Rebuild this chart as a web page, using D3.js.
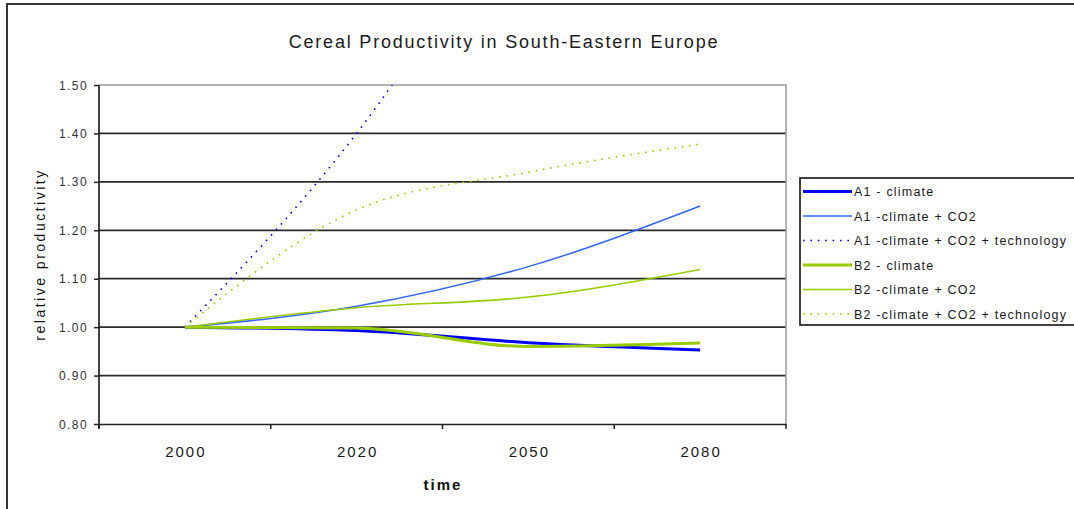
<!DOCTYPE html>
<html>
<head>
<meta charset="utf-8">
<script src="https://cdn.jsdelivr.net/npm/d3@7"></script>
<style>
  html, body { margin: 0; padding: 0; background: #fff; }
  svg { display: block; font-family: "Liberation Sans", Arial, sans-serif; }
</style>
</head>
<body>
<svg id="chart" width="1074" height="509"></svg>
<script>
// Categories on the time axis
const categories = ["2000", "2020", "2050", "2080"];

// Relative cereal productivity per scenario
const a1Climate      = [1.00, 0.993, 0.968, 0.953];
const a1ClimateCO2   = [1.00, 1.043, 1.125, 1.250];
const a1ClimateTech  = [1.00, 1.400, 1.920, 2.400];
const b2Climate      = [1.00, 0.998, 0.960, 0.967];
const b2ClimateCO2   = [1.00, 1.040, 1.062, 1.119];
const b2ClimateTech  = [1.00, 1.242, 1.320, 1.378];

// Value-axis tick labels
const yTicks = [0.80, 0.90, 1.00, 1.10, 1.20, 1.30, 1.40, 1.50];

const seriesLabels = [
  "A1 - climate",
  "A1 -climate + CO2",
  "A1 -climate + CO2 + technology",
  "B2 - climate",
  "B2 -climate + CO2",
  "B2 -climate + CO2 + technology"
];

const series = [
  { label: seriesLabels[0], values: a1Climate,     color: "#0000ff", width: 3,   dash: null },
  { label: seriesLabels[1], values: a1ClimateCO2,  color: "#3366ff", width: 1.5, dash: null },
  { label: seriesLabels[2], values: a1ClimateTech, color: "#0000ff", width: 1.6, dash: "1.6,5.8" },
  { label: seriesLabels[3], values: b2Climate,     color: "#99cc00", width: 3,   dash: null },
  { label: seriesLabels[4], values: b2ClimateCO2,  color: "#99cc00", width: 1.5, dash: null },
  { label: seriesLabels[5], values: b2ClimateTech, color: "#99cc00", width: 1.6, dash: "1.6,5.8" }
];

const svg = d3.select("#chart");
const W = 1074, H = 509;

// Plot area box
const plot = { left: 99, top: 85, right: 786, bottom: 424 };

svg.append("rect").attr("width", W).attr("height", H).attr("fill", "#fff");

// Chart area frame
svg.append("path")
  .attr("d", `M7,${H + 2}V4H${W + 2}`)
  .attr("fill", "none").attr("stroke", "#333").attr("stroke-width", 2);

const x = d3.scaleBand().domain(categories).range([plot.left, plot.right]).padding(0);
const y = d3.scaleLinear().domain([0.8, 1.5]).range([plot.bottom, plot.top]);

// Horizontal gridlines
svg.append("g").selectAll("line")
  .data(yTicks.filter(t => t > 0.8 && t < 1.5))
  .join("line")
  .attr("x1", plot.left).attr("x2", plot.right)
  .attr("y1", d => y(d)).attr("y2", d => y(d))
  .attr("stroke", "#2b2b2b").attr("stroke-width", 1.7);

// Plot area border (top and right)
svg.append("path")
  .attr("d", `M${plot.left},${y(1.5)}H${plot.right}V${plot.bottom}`)
  .attr("fill", "none").attr("stroke", "#9a9a9a").attr("stroke-width", 1.5);

// Y axis
const yAxis = svg.append("g")
  .attr("transform", `translate(${plot.left},0)`)
  .call(d3.axisLeft(y).tickValues(yTicks).tickFormat(d3.format(".2f")).tickSize(5).tickPadding(6));
yAxis.select(".domain").attr("stroke", "#222").attr("stroke-width", 1.7)
  .attr("d", `M0,${plot.top}V${plot.bottom + 4}`);
yAxis.selectAll(".tick line").attr("stroke", "#222").attr("stroke-width", 1.5);
yAxis.selectAll(".tick text")
  .attr("font-size", 12).attr("fill", "#333")
  .attr("letter-spacing", "1.4px").attr("dy", "0.34em")
  .style("font-family", "'Liberation Sans', Arial, sans-serif");

// X axis: labels centred in each band, ticks on band edges
const xAxis = svg.append("g")
  .attr("transform", `translate(0,${plot.bottom})`)
  .call(d3.axisBottom(x).tickSize(0).tickPadding(22));
xAxis.select(".domain").attr("stroke", "#222").attr("stroke-width", 1.7);
xAxis.selectAll(".tick text")
  .attr("font-size", 15).attr("fill", "#1a1a1a")
  .attr("letter-spacing", "2px").attr("dx", "1")
  .style("font-family", "'Liberation Sans', Arial, sans-serif");
const edges = categories.map(c => x(c)).concat([x(categories[categories.length - 1]) + x.bandwidth()]);
xAxis.selectAll("line.edge").data(edges).join("line")
  .attr("class", "edge")
  .attr("x1", d => d).attr("x2", d => d)
  .attr("y1", 0).attr("y2", 5)
  .attr("stroke", "#222").attr("stroke-width", 1.5);

// Clip lines to the plot area
svg.append("defs").append("clipPath").attr("id", "plotClip")
  .append("rect")
  .attr("x", plot.left).attr("y", plot.top)
  .attr("width", plot.right - plot.left).attr("height", plot.bottom - plot.top);

const line = d3.line()
  .x((d, i) => x(categories[i]) + x.bandwidth() / 2)
  .y(d => y(d))
  .curve(d3.curveMonotoneX);

const lines = svg.append("g").attr("clip-path", "url(#plotClip)");
// thin and dotted lines go under the thick "climate" lines
const drawOrder = [2, 5, 1, 4, 0, 3];
drawOrder.forEach(k => {
  const s = series[k];
  lines.append("path")
    .attr("d", line(s.values))
    .attr("fill", "none")
    .attr("stroke", s.color)
    .attr("stroke-width", s.width)
    .attr("stroke-dasharray", s.dash);
});

// Title
svg.append("text")
  .attr("x", 504).attr("y", 48)
  .attr("text-anchor", "middle")
  .attr("font-size", 18).attr("fill", "#1a1a1a")
  .attr("letter-spacing", "1.8px")
  .text("Cereal Productivity in South-Eastern Europe");

// Axis titles
svg.append("text")
  .attr("transform", `translate(45,${(plot.top + plot.bottom) / 2}) rotate(-90)`)
  .attr("text-anchor", "middle")
  .attr("font-size", 14).attr("fill", "#111")
  .attr("letter-spacing", "2.5px")
  .text("relative productivity");

svg.append("text")
  .attr("x", 443).attr("y", 490)
  .attr("text-anchor", "middle")
  .attr("font-size", 15).attr("font-weight", "bold").attr("fill", "#111")
  .attr("letter-spacing", "2px")
  .text("time");

// Legend
const legend = svg.append("g");
legend.append("rect")
  .attr("x", 800).attr("y", 178)
  .attr("width", 300).attr("height", 147)
  .attr("fill", "#fff").attr("stroke", "#222").attr("stroke-width", 1.7);

const rowY = i => 191.5 + i * 24.5;
series.forEach((s, i) => {
  legend.append("line")
    .attr("x1", 803).attr("x2", 852)
    .attr("y1", rowY(i)).attr("y2", rowY(i))
    .attr("stroke", s.color)
    .attr("stroke-width", s.width)
    .attr("stroke-dasharray", s.dash);
  legend.append("text")
    .attr("x", 854).attr("y", rowY(i) + 4.5)
    .attr("font-size", 12.5).attr("fill", "#1a1a1a")
    .attr("letter-spacing", "1.2px")
    .text(s.label);
});
</script>
</body>
</html>
